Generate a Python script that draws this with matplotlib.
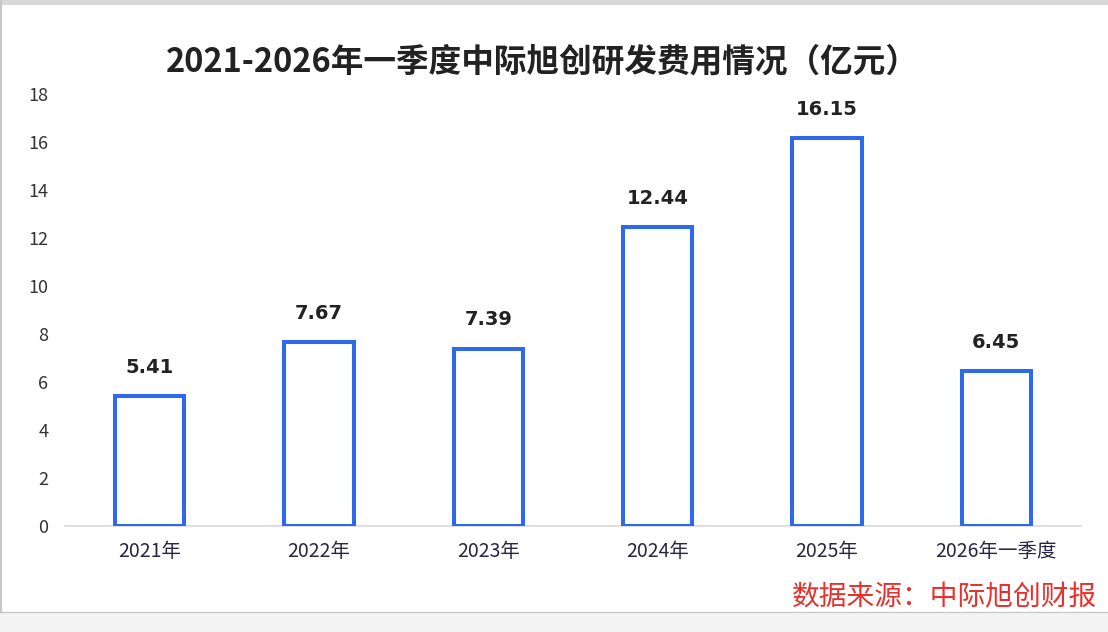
#!/usr/bin/env python3
import matplotlib.pyplot as plt
from matplotlib.patches import Rectangle

plt.rcParams['font.family'] = ['Noto Sans CJK SC', 'DejaVu Sans']

# --- Data ---
categories = ["2021年", "2022年", "2023年", "2024年", "2025年", "2026年一季度"]
values = [5.41, 7.67, 7.39, 12.44, 16.15, 6.45]
yticks = [0, 2, 4, 6, 8, 10, 12, 14, 16, 18]

title = "2021-2026年一季度中际旭创研发费用情况（亿元）"
source = "数据来源：中际旭创财报"

bar_color = "#2e68ec"

# --- Figure ---
fig = plt.figure(figsize=(11.08, 6.32), dpi=100)
fig.patch.set_facecolor("white")

# frame of the screenshot
fig.patches.append(Rectangle((0, 1 - 5 / 632), 1, 5 / 632, transform=fig.transFigure,
                             facecolor="#d9d9d9", edgecolor="none", zorder=0))
fig.patches.append(Rectangle((0, 0), 1, 20 / 632, transform=fig.transFigure,
                             facecolor="#f4f4f4", edgecolor="none", zorder=0))
fig.lines.append(plt.Line2D([0, 1], [20 / 632, 20 / 632], transform=fig.transFigure,
                            color="#c8c8c8", lw=1))
fig.lines.append(plt.Line2D([1 / 1108, 1 / 1108], [20 / 632, 1], transform=fig.transFigure,
                            color="#c8c8c8", lw=1.5))

ax = fig.add_axes([65 / 1108, (632 - 526) / 632, (1081 - 65) / 1108, (526 - 94) / 632])

x = range(len(categories))
ax.bar(x, values, width=0.41, facecolor="white", edgecolor=bar_color, linewidth=2.9, zorder=3)

for i, v in zip(x, values):
    ax.text(i, v + 0.8, f"{v:.2f}", ha="center", va="bottom", fontsize=14,
            fontweight="bold", color="#222222", family="DejaVu Sans")

ax.set_xlim(-0.5, len(categories) - 0.5)
ax.set_ylim(0, 18)
ax.set_yticks(yticks)
ax.set_yticklabels([str(t) for t in yticks], fontsize=13, color="#333333")
ax.set_xticks(list(x))
ax.set_xticklabels(categories, fontsize=14, color="#2a2540")
ax.tick_params(axis="both", length=0)
ax.tick_params(axis="y", pad=12)
ax.tick_params(axis="x", pad=11)

for s in ["top", "right", "left"]:
    ax.spines[s].set_visible(False)
ax.spines["bottom"].set_color("#d9d9d9")
ax.spines["bottom"].set_linewidth(1.2)

fig.text(542 / 1108, 1 - 62 / 632, title, ha="center", va="center", fontsize=23.5,
         fontweight="bold", color="#222222")
fig.text(1097 / 1108, 1 - 597 / 632, source, ha="right", va="center", fontsize=20,
         color="#e8312c")

plt.savefig("out.png", dpi=100)
